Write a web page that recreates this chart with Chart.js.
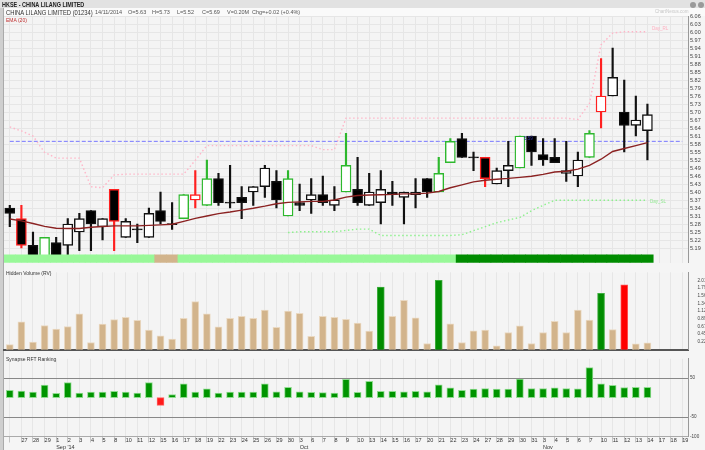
<!DOCTYPE html>
<html>
<head>
<meta charset="utf-8">
<script src="https://cdn.jsdelivr.net/npm/chart.js@4.4.1/dist/chart.umd.min.js"></script>
<style>
body { margin:0; width:705px; height:450px; overflow:hidden; background:#f5f5f5; position:relative;
       font-family:"Liberation Sans", Arial, sans-serif; }
canvas { position:absolute; left:0; }
.txt { position:absolute; white-space:nowrap; line-height:1; }
.narrow { transform:scaleX(0.78); transform-origin:left top; }
#topbar { position:absolute; left:0; top:0; width:705px; height:8px; background:#e2e2e2; }
#subbar { position:absolute; left:4px; top:8px; width:701px; height:8px; background:#fafafa; }
#leftedge { position:absolute; left:0; top:8px; width:3px; height:442px; background:#cfcfcf; border-right:1px solid #aaa; }
.dot { position:absolute; top:2px; width:6px; height:6px; border-radius:50%; background:#9a9a9a; }
</style>
</head>
<body>
<div id="topbar"></div>
<div id="subbar"></div>
<div id="leftedge"></div>
<canvas id="price" width="705" height="268" style="top:0"></canvas>
<canvas id="volume" width="705" height="86" style="top:268px"></canvas>
<canvas id="rft" width="705" height="96" style="top:354px"></canvas>

<div class="txt narrow" style="left:2px;top:1px;font-size:7px;font-weight:bold;color:#222">HKSE - CHINA LILANG LIMITED</div>
<div class="dot" style="left:690px"></div><div class="dot" style="left:698px"></div>
<div class="txt narrow" style="left:6px;top:9px;font-size:7.5px;color:#333">CHINA LILANG LIMITED (01234)</div>
<div class="txt" style="left:95px;top:10px;font-size:5.5px;color:#555">14/11/2014</div>
<div class="txt" style="left:128px;top:10px;font-size:5.5px;color:#555">O=5.63</div>
<div class="txt" style="left:152px;top:10px;font-size:5.5px;color:#555">H=5.73</div>
<div class="txt" style="left:177px;top:10px;font-size:5.5px;color:#555">L=5.52</div>
<div class="txt" style="left:202px;top:10px;font-size:5.5px;color:#555">C=5.69</div>
<div class="txt" style="left:227px;top:10px;font-size:5.5px;color:#555">V=0.20M</div>
<div class="txt" style="left:252px;top:10px;font-size:5.5px;color:#555">Chg=+0.02 (+0.4%)</div>
<div class="txt" style="left:655px;top:10px;font-size:4.5px;color:#c8c8c8">ChartNexus.com</div>
<div class="txt" style="left:6px;top:18px;font-size:5px;color:#c03030">EMA (20)</div>
<div class="txt" style="left:652px;top:27px;font-size:4.5px;color:#ffb0c0">Day_RL</div>
<div class="txt" style="left:650px;top:200px;font-size:4.5px;color:#90e890">Day_SL</div>
<div class="txt" style="left:524px;top:137px;font-size:4.5px;color:#3030a0">5.59</div>
<div class="txt" style="left:6px;top:271px;font-size:5px;color:#333">Hidden Volume (RV)</div>
<div class="txt" style="left:6px;top:357px;font-size:5px;color:#333">Synapse RFT Ranking</div>

<script>
// trading days 26 Aug - 14 Nov 2014, plus three empty days
const dayLabels = ['26','27','28','29','1','2','3','4','5','8','10','11','12','15','16','17','18','19','22','23','24','25','26','29','30',
  '3','6','7','8','9','10','13','14','15','16','17','20','21','22','23','24','27','28','29','30','31',
  '3','4','5','6','7','10','11','12','13','14','17','18','19'];
const monthLabels = {4: "Sep '14", 25: 'Oct', 46: 'Nov'};

const opens  = [5.34,5.30,5.20,5.16,5.21,5.20,5.25,5.33,5.27,5.41,5.23,5.26,5.23,5.33,5.28,5.30,5.37,5.35,5.45,5.36,
  5.38,5.40,5.42,5.44,5.31,5.36,5.37,5.39,5.35,5.40,5.41,5.35,5.36,5.40,5.38,5.39,5.45,5.40,5.51,5.60,
  5.53,5.53,5.43,5.48,5.49,5.61,5.54,5.53,5.47,5.46,5.53,5.70,5.76,5.70,5.65,5.63];
const highs  = [5.35,5.35,5.25,5.23,5.23,5.30,5.32,5.33,5.30,5.41,5.30,5.28,5.34,5.40,5.36,5.39,5.48,5.52,5.47,5.50,
  5.42,5.42,5.50,5.48,5.48,5.43,5.45,5.46,5.42,5.62,5.53,5.47,5.48,5.44,5.40,5.45,5.45,5.53,5.60,5.62,
  5.55,5.53,5.49,5.59,5.61,5.61,5.60,5.60,5.59,5.55,5.63,5.90,5.94,5.82,5.76,5.73];
const lows   = [5.27,5.19,5.16,5.16,5.16,5.16,5.18,5.18,5.22,5.18,5.23,5.21,5.23,5.28,5.26,5.30,5.34,5.35,5.35,5.34,
  5.30,5.35,5.38,5.34,5.31,5.33,5.32,5.35,5.33,5.40,5.35,5.35,5.28,5.35,5.28,5.34,5.38,5.40,5.51,5.53,
  5.48,5.42,5.43,5.42,5.49,5.50,5.50,5.51,5.44,5.42,5.53,5.64,5.76,5.55,5.61,5.52];
const closes = [5.32,5.20,5.16,5.23,5.16,5.28,5.30,5.28,5.30,5.29,5.29,5.26,5.32,5.29,5.28,5.39,5.39,5.45,5.36,5.36,
  5.36,5.42,5.49,5.37,5.45,5.35,5.39,5.36,5.37,5.50,5.36,5.40,5.41,5.39,5.40,5.40,5.40,5.47,5.59,5.53,
  5.53,5.45,5.48,5.50,5.61,5.55,5.52,5.51,5.48,5.52,5.62,5.76,5.83,5.65,5.67,5.69];
// 1 = buy signal (green outline), -1 = sell signal (red outline)
const signals = [0,-1,0,1,0,0,0,0,0,-1,0,0,0,0,0,1,-1,1,0,0,0,0,0,0,1,0,0,0,0,1,0,0,0,0,0,0,0,1,1,0,
  0,-1,0,0,1,0,0,0,0,0,1,-1,0,0,0,0];

const ema20 = [5.299,5.292,5.282,5.271,5.264,5.263,5.263,5.268,5.271,5.273,5.273,5.273,5.275,5.277,5.279,5.290,
  5.301,5.310,5.319,5.325,5.332,5.339,5.347,5.356,5.361,5.363,5.365,5.365,5.370,5.381,5.387,5.389,5.390,5.391,
  5.393,5.393,5.396,5.402,5.416,5.427,5.438,5.444,5.448,5.451,5.455,5.459,5.466,5.475,5.478,5.486,5.500,5.523,
  5.552,5.563,5.574,5.585];
const dayRL = [5.644,5.629,5.610,5.549,5.527,5.527,5.527,5.420,5.416,5.464,5.467,5.467,5.467,5.467,5.467,5.467,
  5.519,5.574,5.574,5.574,5.574,5.574,5.574,5.574,5.574,5.574,5.574,5.559,5.559,5.677,5.677,5.677,5.677,5.677,
  5.677,5.677,5.677,5.677,5.677,5.677,5.677,5.677,5.677,5.677,5.677,5.677,5.677,5.677,5.677,5.672,5.732,5.952,
  5.996,6.001,6.001,6.001];
const daySL = [null,null,null,null,null,null,null,null,null,null,null,null,null,null,null,null,null,null,null,null,
  null,null,null,null,5.248,5.251,5.251,5.251,5.251,5.256,5.261,5.261,5.237,5.237,5.237,5.237,5.237,5.237,5.237,5.240,
  5.255,5.270,5.285,5.295,5.305,5.330,5.350,5.369,5.369,5.369,5.369,5.369,5.369,5.369,5.369,5.369];
const refLevel = 5.59;
const priceTicks = [5.19,5.22,5.25,5.28,5.31,5.34,5.37,5.40,5.43,5.46,5.49,5.52,5.55,5.58,5.61,5.64,5.67,5.70,
  5.73,5.76,5.79,5.82,5.85,5.88,5.91,5.94,5.97,6.00,6.03,6.06];

// 1 = neutral, 0 = caution, 2 = strong
const trendBand = [1,1,1,1,1,1,1,1,1,1,1,1,1,0,0,1,1,1,1,1,1,1,1,1,1,1,1,1,1,1,1,1,1,1,1,1,1,1,1,2,
  2,2,2,2,2,2,2,2,2,2,2,2,2,2,2,2];

// volume in millions; 1 = green, -1 = red
const volumes = [0.15,0.81,0.22,0.70,0.60,0.67,1.04,0.21,0.74,0.87,0.94,0.85,0.57,0.40,0.31,0.91,1.39,1.04,0.66,0.91,
  0.97,0.91,1.15,0.65,1.12,1.05,0.39,0.97,0.94,0.88,0.77,0.54,1.81,0.97,1.43,0.92,0.18,2.01,0.75,0.21,
  0.55,0.57,0.11,0.50,0.69,0.18,0.50,0.82,0.50,1.15,0.86,1.63,0.58,1.88,0.17,0.20];
const volFlags = [0,0,0,0,0,0,0,0,0,0,0,0,0,0,0,0,0,0,0,0,0,0,0,0,0,0,0,0,0,0,0,0,1,0,0,0,0,1,0,0,
  0,0,0,0,0,0,0,0,0,0,0,1,0,-1,0,0];
const volTicks = [0.22,0.45,0.67,0.89,1.12,1.34,1.56,1.79,2.01];

const rftRank = [18.5,17,14.5,32,11,39,12,14.5,14.5,16,14.5,12,39,-20,8,35.5,14,22.5,12,14.5,
  14.5,14.5,35.5,15,26.6,15,13.7,13,12,47,13.7,42,16,16,15,16,15,33,25,19,
  22,23,22,22,48,23.4,23.4,25,23.4,22.6,77,35.5,31.5,26,26.6,26.6];
const rftTicks = [-100,-50,50];

const AXIS_W = 17;
const axisFont = {family: 'Liberation Sans', size: 5.5};
const smallFont = {family: 'Liberation Sans', size: 4.6};
const gridCol = '#e6e6e6';

const panelBg = {
  id: 'panelBg',
  beforeDraw(chart) {
    const {ctx, chartArea: a} = chart;
    ctx.save();
    ctx.fillStyle = '#f4f4f4';
    ctx.fillRect(a.left, a.top, a.right - a.left, a.bottom - a.top);
    ctx.restore();
  }
};

function xScale(extra) {
  return Object.assign({
    offset: true,
    grid: {offset: false, color: gridCol, drawTicks: false},
    ticks: {display: false},
    border: {display: false}
  }, extra || {});
}

const baseOpts = {
  responsive: false,
  animation: false,
  events: [],
  plugins: {legend: {display: false}, tooltip: {enabled: false}}
};

// ---- price panel ----
const upColor = i => closes[i] >= opens[i];
const edgeColor = i => signals[i] > 0 ? '#2db82d' : signals[i] < 0 ? '#ff2020' : '#111';
const bodies = opens.map((o, i) => {
  if (Math.abs(closes[i] - o) < 0.004) return [o - 0.002, o + 0.002];
  return [o, closes[i]];
});

new Chart(document.getElementById('price'), {
  type: 'bar',
  data: {
    labels: dayLabels,
    datasets: [
      {type: 'bar', data: trendBand.map(() => [0, 1]), yAxisID: 'band', grouped: false, order: 0,
       barPercentage: 1, categoryPercentage: 1,
       backgroundColor: trendBand.map(b => b === 2 ? '#008c00' : b === 0 ? '#d2b48c' : '#98f898')},
      {type: 'line', data: ema20, borderColor: '#8b2222', borderWidth: 1.4, pointRadius: 0, order: 1},
      {type: 'bar', data: bodies, grouped: false, order: 2, barThickness: 10, borderWidth: 1.4, borderSkipped: false,
       backgroundColor: opens.map((o, i) => Math.abs(closes[i] - o) < 0.004 ? '#111' : upColor(i) ? '#ffffff' : '#000000'),
       borderColor: opens.map((o, i) => edgeColor(i))},
      {type: 'bar', data: lows.map((l, i) => [l, highs[i]]), grouped: false, order: 3, barThickness: 1.5,
       backgroundColor: opens.map((o, i) => edgeColor(i))},
      {type: 'line', data: dayRL, borderColor: '#ffb6c8', borderWidth: 1.4, borderDash: [1.5, 2.5], pointRadius: 0, order: 4},
      {type: 'line', data: daySL, borderColor: '#8ef08e', borderWidth: 1.4, borderDash: [1.5, 2.5], pointRadius: 0, order: 4},
      {type: 'line', data: dayLabels.map(() => refLevel), borderColor: '#7878ff', borderWidth: 1, borderDash: [4, 2],
       pointRadius: 0, order: 5}
    ]
  },
  options: Object.assign({}, baseOpts, {
    layout: {padding: {left: 4, top: 16, right: 0, bottom: 0}},
    scales: {
      x: xScale(),
      y: {
        position: 'right', min: 5.135, max: 6.06,
        afterBuildTicks: s => { s.ticks = priceTicks.map(v => ({value: v})); },
        afterFit: s => { s.width = AXIS_W; },
        grid: {color: gridCol, drawTicks: false},
        border: {color: '#999'},
        ticks: {font: axisFont, color: '#444', padding: 2, autoSkip: false, callback: v => v.toFixed(2)}
      },
      band: {display: false, min: 0, max: 31.5}
    }
  }),
  plugins: [panelBg]
});

// ---- volume panel ----
new Chart(document.getElementById('volume'), {
  type: 'bar',
  data: {
    labels: dayLabels,
    datasets: [{
      data: volumes, barThickness: 7, borderWidth: 1, borderSkipped: 'bottom',
      backgroundColor: volFlags.map(f => f > 0 ? '#008c00' : f < 0 ? '#ff0000' : '#d2b48c'),
      borderColor: volFlags.map(f => f > 0 ? '#3fae3f' : f < 0 ? '#ff5050' : '#ead9c2')
    }]
  },
  options: Object.assign({}, baseOpts, {
    layout: {padding: {left: 4, top: 1, right: 0, bottom: 0.7}},
    scales: {
      x: xScale({border: {display: true, color: '#555', width: 2}}),
      y: {
        position: 'right', min: 0, max: 2.242,
        afterBuildTicks: s => { s.ticks = volTicks.map(v => ({value: v})); },
        afterFit: s => { s.width = AXIS_W; },
        grid: {display: false},
        border: {color: '#999'},
        ticks: {font: smallFont, color: '#444', padding: 1.5, autoSkip: false, callback: v => v.toFixed(2) + 'M'}
      }
    }
  }),
  plugins: [panelBg]
});

// ---- RFT ranking panel + date axis ----
new Chart(document.getElementById('rft'), {
  type: 'bar',
  data: {
    labels: dayLabels,
    datasets: [{
      data: rftRank, barThickness: 7, borderWidth: 1, borderSkipped: false,
      backgroundColor: rftRank.map(v => v < 0 ? '#ff1a1a' : '#009400'),
      borderColor: rftRank.map(v => v < 0 ? '#ff6060' : '#8fdc8f')
    }]
  },
  options: Object.assign({}, baseOpts, {
    layout: {padding: {left: 4, top: 0, right: 0, bottom: 0}},
    scales: {
      x: {
        offset: true,
        afterFit: s => { s.height = 13.5; },
        grid: {offset: false, color: gridCol, tickLength: 6, tickColor: '#c4c4c4'},
        border: {display: true, color: '#aaa'},
        ticks: {
          font: axisFont, color: '#333', autoSkip: false, maxRotation: 0, align: 'start', padding: -5,
          callback: (v, i) => i === 0 ? '' : (monthLabels[i] ? [dayLabels[i], monthLabels[i]] : dayLabels[i])
        }
      },
      y: {
        position: 'right', min: -100, max: 100,
        afterBuildTicks: s => { s.ticks = rftTicks.map(v => ({value: v})); },
        afterFit: s => { s.width = AXIS_W; },
        grid: {color: c => c.tick && c.tick.value === -100 ? 'rgba(0,0,0,0)' : '#888', borderDash: [1, 2], drawTicks: false},
        border: {color: '#999'},
        ticks: {font: smallFont, color: '#444', padding: 2, autoSkip: false}
      }
    }
  }),
  plugins: [panelBg]
});
</script>
</body>
</html>
